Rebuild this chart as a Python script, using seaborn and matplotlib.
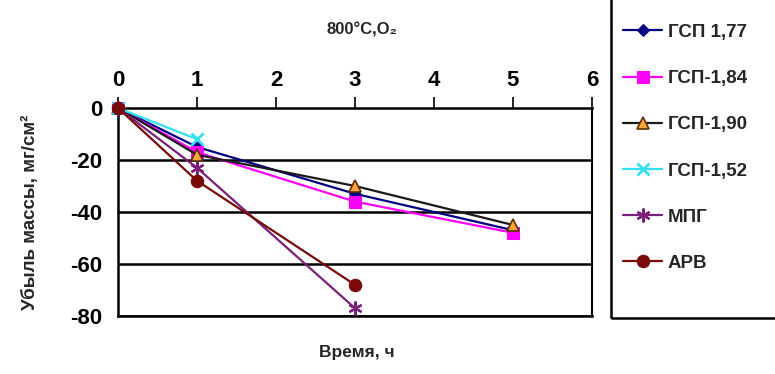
import numpy as np
import pandas as pd
import matplotlib
matplotlib.use("Agg")
import matplotlib.pyplot as plt
from matplotlib.patches import Rectangle
import seaborn as sns

# Mass loss (mg/cm^2) vs. oxidation time (h) at 800 °C in O2
time_long = [0, 1, 3, 5]
time_short3 = [0, 1, 3]
time_short2 = [0, 1]

gsp_177 = [0, -15, -33, -47]
gsp_184 = [0, -17, -36, -48]
gsp_190 = [0, -18, -30, -45]
gsp_152 = [0, -12]
mpg = [0, -23, -77]
arv = [0, -28, -68]

labels = ["ГСП 1,77", "ГСП-1,84", "ГСП-1,90", "ГСП-1,52", "МПГ", "АРВ"]
x_ticks = [0, 1, 2, 3, 4, 5, 6]
y_ticks = [0, -20, -40, -60, -80]

series = [
    (labels[0], time_long, gsp_177),
    (labels[1], time_long, gsp_184),
    (labels[2], time_long, gsp_190),
    (labels[3], time_short2, gsp_152),
    (labels[4], time_short3, mpg),
    (labels[5], time_short3, arv),
]
df = pd.concat(
    [pd.DataFrame({"series": name, "t": t, "loss": v}) for name, t, v in series],
    ignore_index=True,
)

styles = {
    labels[0]: dict(color="#000080", marker="D", markersize=6,
                    markerfacecolor="#000080", markeredgecolor="#000080"),
    labels[1]: dict(color="#FF00FF", marker="s", markersize=8,
                    markerfacecolor="#FF00FF", markeredgecolor="#FF00FF"),
    labels[2]: dict(color="#1a1a1a", marker="^", markersize=9,
                    markerfacecolor="#FFA53A", markeredgecolor="#5a3200",
                    markeredgewidth=1.2),
    labels[3]: dict(color="#33E0F0", marker="x", markersize=8,
                    markeredgecolor="#33E0F0", markeredgewidth=2),
    labels[4]: dict(color="#7A1F7A", marker=(6, 2, 0), markersize=10,
                    markeredgecolor="#7A1F7A", markeredgewidth=1.6),
    labels[5]: dict(color="#7A0A0A", marker="o", markersize=9,
                    markerfacecolor="#7A0A0A", markeredgecolor="#7A0A0A"),
}

sns.set_style("white")
fam = ["Liberation Sans", "DejaVu Sans"]
plt.rcParams["font.family"] = fam
plt.rcParams["font.weight"] = "bold"
plt.rcParams["axes.unicode_minus"] = False

fig = plt.figure(figsize=(7.75, 3.74), dpi=100)
ax = fig.add_axes([118 / 775, 1 - 316 / 374, (592 - 118) / 775, (316 - 108) / 374])

for name in labels:
    sub = df[df["series"] == name]
    sns.lineplot(data=sub, x="t", y="loss", ax=ax, linewidth=1.6,
                 label=name, clip_on=False, zorder=3, **styles[name])

ax.set_xlim(0, 6)
ax.set_ylim(-80, 0)
ax.set_xticks(x_ticks)
ax.set_yticks(y_ticks)
ax.xaxis.tick_top()
ax.set_xlabel("")
ax.set_ylabel("")
ax.tick_params(axis="x", direction="out", length=8, width=1.2, colors="black",
               labelsize=16, pad=4)
ax.tick_params(axis="y", direction="out", length=8, width=1.8, colors="black",
               labelsize=16, pad=3)
for lab in ax.get_xticklabels() + ax.get_yticklabels():
    lab.set_fontweight("bold")

for y in y_ticks[1:]:
    ax.axhline(y, color="black", linewidth=1.8, zorder=1)

for side in ["top", "left", "right", "bottom"]:
    ax.spines[side].set_visible(True)
    ax.spines[side].set_color("black")
ax.spines["top"].set_linewidth(1.8)
ax.spines["left"].set_linewidth(1.8)
ax.spines["right"].set_linewidth(1.5)
ax.spines["bottom"].set_linewidth(1.8)

ax.get_legend().remove()
handles, hlabels = ax.get_legend_handles_labels()

fig.text(362 / 775, 1 - 30 / 374, "800°C,O₂", ha="center", va="center",
         fontsize=12, fontweight="bold", family=fam)
fig.text(357 / 775, 1 - 352 / 374, "Время, ч", ha="center", va="center",
         fontsize=12.5, fontweight="bold", family=fam)
fig.text(30 / 775, 1 - 212 / 374, "Убыль массы, мг/см²", ha="center", va="center",
         rotation=90, fontsize=13.5, fontweight="bold", family=fam)

# Legend panel framed on the right edge
fig.patches.append(Rectangle((611 / 775, 1 - 318 / 374), 0.5, 1.0,
                             transform=fig.transFigure, fill=False,
                             edgecolor="black", linewidth=1.8))
fig.legend(handles, hlabels, loc="upper left",
           bbox_to_anchor=(606 / 775, 1 - 7 / 374), frameon=False,
           labelspacing=1.55, handlelength=2.1,
           handletextpad=0.3, prop={"weight": "bold", "family": fam, "size": 13.5})

fig.savefig("out.png", dpi=100, facecolor="white")
